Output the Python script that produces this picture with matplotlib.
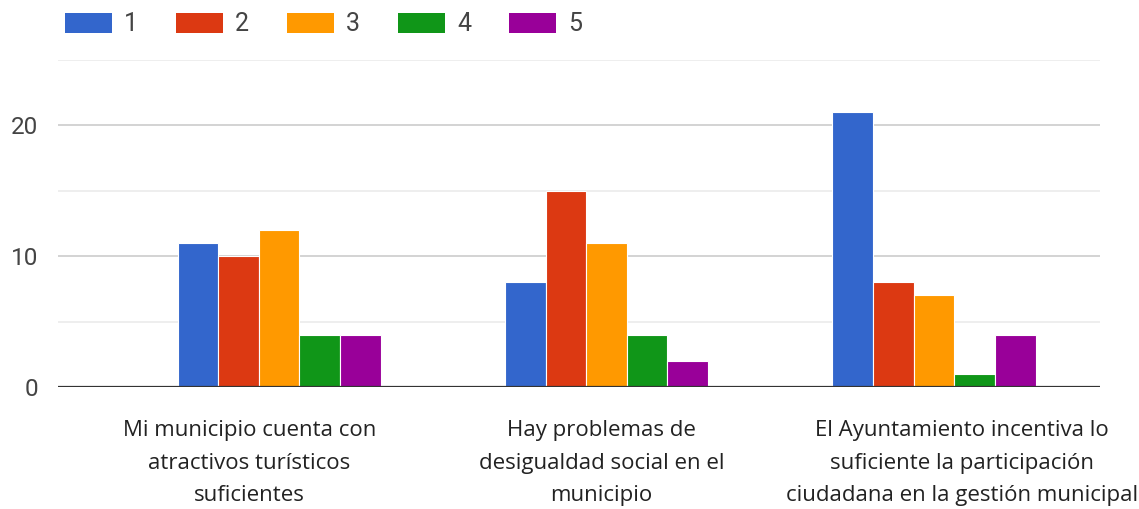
import matplotlib
matplotlib.use("Agg")
import matplotlib.pyplot as plt
from matplotlib.patches import Patch
import numpy as np

# survey answers (1..5) per statement
categories = [
    "Mi municipio cuenta con\natractivos turísticos\nsuficientes",
    "Hay problemas de\ndesigualdad social en el\nmunicipio",
    "El Ayuntamiento incentiva lo\nsuficiente la participación\nciudadana en la gestión municipal",
]
series_names = ["1", "2", "3", "4", "5"]
values_1 = [11, 8, 21]
values_2 = [10, 15, 8]
values_3 = [12, 11, 7]
values_4 = [4, 4, 1]
values_5 = [4, 2, 4]
colors = ["#3366cc", "#dc3912", "#ff9900", "#109618", "#990099"]

series = [values_1, values_2, values_3, values_4, values_5]

fig = plt.figure(figsize=(11.39, 5.09), dpi=100)
ax = fig.add_axes([0.0509, 0.2397, 0.9149, 0.6423])

x = np.arange(len(categories))
w = 0.124
for i, (vals, c) in enumerate(zip(series, colors)):
    ax.bar(x + (i - 2) * w, vals, width=w, color=c, edgecolor="white", linewidth=0.8, zorder=3)

ax.set_xlim(-0.675, 2.507)
ax.set_ylim(0, 25)

# gridlines: major every 10, lighter ones in between
for y in [10, 20]:
    ax.axhline(y, color="#cccccc", lw=1.2, zorder=1)
for y in [5, 15, 25]:
    ax.axhline(y, color="#ebebeb", lw=1.2, zorder=1)
ax.axhline(0, color="#333333", lw=1.6, zorder=4)

for s in ax.spines.values():
    s.set_visible(False)
ax.set_yticks([0, 10, 20])
ax.set_yticklabels(["0", "10", "20"], fontsize=17.5, color="#444444", family=["Roboto", "DejaVu Sans"])
ax.tick_params(axis="y", length=0, pad=14)
ax.set_xticks([])

label_font = ["Liberation Sans Narrow", "Open Sans", "DejaVu Sans"]
offsets = [-0.09, -0.015, 0.085]
for i, (lab, off) in enumerate(zip(categories, offsets)):
    ax.text(i + off, -2.55, lab, ha="center", va="top", fontsize=16, color="#222222",
            family=label_font, linespacing=1.7, transform=ax.transData)

handles = [Patch(facecolor=c, edgecolor="none") for c in colors]
leg = fig.legend(handles, series_names, loc="upper left", bbox_to_anchor=(0.0571, 0.9755), ncol=5,
                 frameon=False, handlelength=1.88, handleheight=0.88, borderpad=0, borderaxespad=0,
                 columnspacing=1.52, handletextpad=0.48, prop={"family": "Roboto", "size": 18})
for t in leg.get_texts():
    t.set_color("#444444")

fig.savefig("out.png", dpi=100)
